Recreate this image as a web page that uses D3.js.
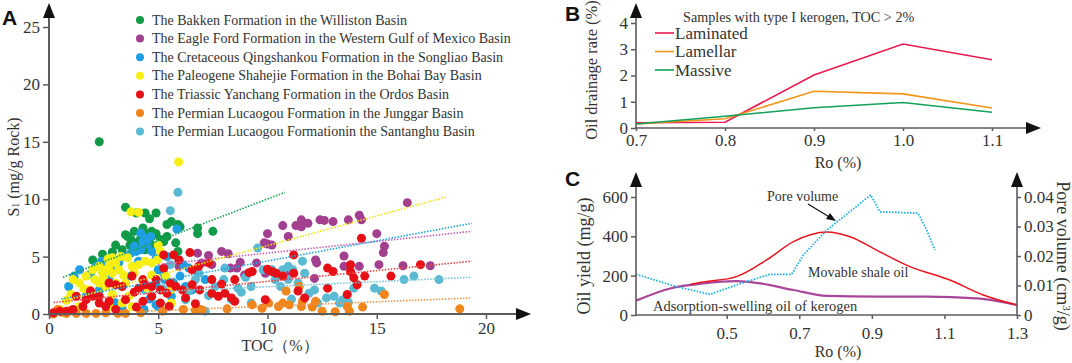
<!DOCTYPE html>
<html>
<head>
<meta charset="utf-8">
<script src="https://cdn.jsdelivr.net/npm/d3@7"></script>
<style>
  body { margin: 0; background: #fff; }
  svg text { font-family: "Liberation Serif", "Times New Roman", serif; fill: #333; }
  .panel-letter { font-family: "Liberation Sans", Arial, sans-serif !important; font-weight: bold; fill: #111 !important; }
</style>
</head>
<body>
<div id="chart"></div>
<script>
// ---------- Panel A : TOC vs S1 scatter ----------
const seriesNames = [
  "The Bakken Formation in the Williston Basin",
  "The Eagle Ford Formation in the Western Gulf of Mexico Basin",
  "The Cretaceous Qingshankou Formation in the Songliao Basin",
  "The Paleogene Shahejie Formation in the Bohai Bay Basin",
  "The Triassic Yanchang Formation in the Ordos Basin",
  "The Permian Lucaogou Formation in the Junggar Basin",
  "The Permian Lucaogou Formationin the Santanghu Basin"
];
const seriesColors = ["#119a48", "#a23f8e", "#1f9fe3", "#f7ee13", "#e60f16", "#f08519", "#5bbad3"];
const trendColors = ["#17a34f", "#c662b4", "#1aa7e0", "#f2e20a", "#f04545", "#f59445", "#74c8da"];

const bakken = [[2.3,15.0],[3.5,9.3],[4.0,8.8],[4.4,8.8],[4.9,8.8],[4.6,8.3],[3.6,6.75],[3.75,6.5],[4.1,6.3],[3.8,6.2],[4.3,7.5],[4.7,7.2],[4.9,7.0],[4.7,6.75],[5.4,7.8],[5.6,8.05],[5.9,7.8],[6.0,7.6],[6.8,7.5],[6.8,7.0],[7.5,7.2],[5.4,6.75],[5.25,6.3],[5.8,6.2],[5.9,5.45],[2.9,5.4],[2.45,5.2],[2.0,4.7],[3.35,5.6],[4.7,6.0],[4.4,5.6],[3.05,6.0],[3.9,7.2],[3.5,6.9],[4.2,6.6],[5.1,6.5],[3.7,6.0],[4.5,7.0]];
const eagleFord = [[16.4,9.7],[10.7,7.7],[10.0,7.0],[10.0,6.1],[10.2,6.0],[10.95,6.75],[11.55,8.2],[11.55,7.6],[11.85,7.9],[12.4,8.2],[12.6,8.15],[13.0,8.05],[13.7,8.2],[14.2,8.6],[14.3,8.2],[15.0,7.0],[15.35,5.9],[15.3,5.35],[9.85,6.2],[7.9,5.45],[8.2,5.25],[7.3,5.1],[7.0,4.45],[7.45,4.3],[8.3,4.0],[8.6,4.0],[8.75,4.5],[9.5,4.45],[8.95,3.4],[9.9,3.55],[10.35,3.5],[10.95,3.4],[12.2,4.7],[12.25,4.45],[12.15,3.1],[13.5,5.05],[13.5,4.15],[14.2,4.15],[15.1,4.3],[16.2,4.2],[17.45,4.2],[6.8,5.3],[5.95,4.15],[11.3,7.7]];
const qingshankou = [[5.85,7.4],[4.2,7.05],[4.4,6.6],[4.65,6.75],[4.0,5.45],[3.75,5.3],[4.2,5.6],[4.7,5.45],[4.9,4.85],[2.9,4.85],[2.4,4.6],[2.15,4.15],[1.4,3.85],[1.15,3.3],[5.0,3.85],[5.25,3.55],[5.95,4.7],[6.15,4.3],[6.4,4.0],[6.85,3.55],[7.15,3.0],[6.25,2.4],[4.9,2.7],[4.4,2.1],[4.9,0.8],[5.0,0.65],[4.35,0.4],[3.35,0.4],[1.7,1.55],[2.3,2.1],[5.6,1.55],[6.55,2.1],[6.85,0.4],[2.75,3.0],[3.75,3.3],[3.2,4.5],[3.5,5.0],[4.5,6.1],[4.1,4.6],[5.3,3.0],[5.7,2.7],[1.9,3.5],[2.6,4.0],[0.9,2.4],[4.6,1.3],[3.0,1.0],[5.4,5.0],[6.0,3.3],[3.9,5.9],[4.3,6.3],[3.0,4.2]];
const shahejie = [[5.93,13.25],[3.75,8.9],[4.1,8.85],[5.0,6.0],[5.1,5.45],[1.1,3.0],[1.0,1.7],[1.4,2.7],[1.7,3.3],[2.0,3.85],[2.3,4.15],[2.45,3.55],[2.6,3.85],[2.75,4.15],[2.9,3.55],[3.05,4.45],[3.2,3.85],[2.3,2.7],[2.6,2.4],[3.05,2.7],[3.5,2.7],[3.8,4.15],[4.1,4.3],[4.4,4.6],[4.7,4.45],[4.95,4.7],[3.65,1.55],[3.35,0.95],[3.8,0.65],[2.75,0.65],[1.4,0.65],[0.5,0.4],[5.35,3.3],[5.55,2.1],[5.6,0.95],[4.7,3.4],[1.85,2.1],[4.55,2.1],[2.7,4.8],[3.3,5.0],[2.5,3.2],[3.4,3.4],[2.1,3.0],[1.6,2.2],[3.9,3.6],[4.3,2.9],[2.9,1.7],[0.8,1.2],[2.9,4.9],[3.6,4.9]];
const yanchang = [[7.3,4.45],[6.45,5.35],[5.95,4.7],[5.25,5.15],[5.7,5.15],[5.25,4.0],[6.85,4.15],[6.55,3.85],[3.8,3.3],[4.3,3.0],[4.9,3.0],[2.75,2.7],[3.05,2.55],[3.35,2.4],[4.1,2.25],[4.4,2.55],[4.7,2.4],[5.1,2.1],[5.55,2.7],[5.8,2.4],[6.1,2.1],[6.55,2.55],[6.9,2.1],[7.45,1.8],[7.75,1.55],[8.05,1.8],[8.35,1.4],[8.5,1.1],[7.45,3.0],[8.5,3.0],[9.3,3.7],[10.2,3.7],[10.4,3.55],[10.7,3.3],[11.2,5.15],[11.2,3.55],[11.4,2.0],[11.7,1.4],[9.9,1.25],[12.75,4.0],[13.0,3.7],[12.75,2.25],[13.8,4.3],[13.8,3.7],[13.95,3.15],[14.1,2.55],[13.65,1.7],[14.3,6.6],[14.45,3.3],[15.65,3.3],[17.0,4.3],[9.15,3.6],[1.25,1.55],[1.7,1.25],[2.0,1.55],[2.3,0.95],[2.6,0.65],[1.55,0.65],[1.1,0.4],[0.5,0.25],[0.2,0.1],[0.8,0.25],[3.05,0.4],[3.5,1.25],[4.3,1.1],[4.7,1.55],[5.1,0.95],[5.5,0.65],[6.25,1.4],[2.3,1.55],[2.75,1.1],[3.9,1.9],[5.4,1.8],[4.0,0.6],[1.9,2.0],[6.7,0.9],[10.0,3.9],[7.9,2.6]];
const junggar = [[0.2,0.0],[0.4,0.4],[0.8,0.05],[1.25,0.05],[1.7,0.05],[2.15,0.05],[3.15,0.05],[3.5,0.05],[5.2,0.25],[6.15,0.4],[6.7,0.3],[6.9,0.4],[8.15,0.45],[9.3,0.8],[9.75,0.5],[10.05,0.95],[10.5,0.65],[10.7,0.95],[10.85,2.0],[11.55,0.65],[11.6,1.1],[11.45,2.4],[12.2,1.1],[12.5,0.25],[13.65,0.65],[13.75,0.25],[15.35,1.7],[18.8,0.45],[0.6,0.15],[1.0,0.3],[2.6,0.1],[7.0,0.35],[11.0,0.8],[12.05,0.6],[13.1,0.2],[14.35,0.6],[4.2,0.1]];
const santanghu = [[5.9,10.6],[5.55,9.0],[5.55,4.3],[6.7,3.0],[7.15,0.25],[8.0,3.0],[8.05,4.0],[8.65,2.25],[9.25,2.4],[9.55,5.75],[9.8,3.85],[10.2,3.85],[10.35,3.0],[10.7,3.85],[10.95,3.0],[11.4,2.7],[11.6,4.6],[11.7,3.55],[12.15,2.1],[12.3,0.95],[12.7,1.4],[13.05,1.55],[13.3,0.95],[13.45,1.25],[13.95,2.25],[14.9,2.25],[15.2,2.0],[16.25,3.0],[16.7,3.3],[17.85,3.0],[11.15,3.85],[10.95,4.15],[6.85,3.55],[6.25,1.25],[6.4,2.0],[7.6,2.4],[8.35,1.25],[9.25,0.95],[10.6,2.4],[11.9,1.8],[13.7,1.0],[9.0,3.2],[7.3,1.6],[5.2,2.2],[8.8,1.9],[11.1,1.3]];
const scatterSeries = [bakken, eagleFord, qingshankou, shahejie, yanchang, junggar, santanghu];
const drawOrder = [0, 1, 2, 3, 6, 5, 4];

// dotted trend lines, [start, end] in data units
const trendLines = [
  [[0.64, 3.2], [10.8, 10.6]],
  [[5.0, 4.3], [19.35, 7.2]],
  [[0.56, 1.3], [19.35, 7.9]],
  [[1.0, 1.3], [18.2, 10.2]],
  [[0.2, 1.0], [19.35, 4.6]],
  [[4.4, 0.25], [19.35, 1.4]],
  [[4.0, 1.85], [19.35, 3.2]]
];
const aTicksX = [0, 5, 10, 15, 20];
const aTicksY = [0, 5, 10, 15, 20, 25];

// ---------- Panel B : oil drainage rate ----------
const roB = [0.7, 0.8, 0.9, 1.0, 1.1];
const laminated = [0.2, 0.22, 2.02, 3.2, 2.6];
const lamellar = [0.15, 0.35, 1.4, 1.3, 0.76];
const massive = [0.15, 0.45, 0.77, 0.97, 0.6];
const bNames = ["Laminated", "Lamellar", "Massive"];
const bColors = ["#ea1a4e", "#f49419", "#12a05a"];
const bTicksY = [0, 1, 2, 3, 4];

// ---------- Panel C : oil yield / pore volume ----------
const movableRo = [0.40, 0.43, 0.527, 0.61, 0.684, 0.776, 0.84, 0.913, 1.005, 1.115, 1.207, 1.30];
const movableOil = [155, 166, 195, 280, 373, 422, 398, 330, 246, 178, 102, 51];
const adsorbRo = [0.25, 0.344, 0.435, 0.527, 0.592, 0.684, 0.776, 0.913, 1.051, 1.189, 1.30];
const adsorbOil = [73, 135, 161, 172, 161, 127, 97, 93, 93, 85, 51];
const poreRo = [0.25, 0.362, 0.454, 0.527, 0.619, 0.679, 0.711, 0.776, 0.897, 0.922, 1.028, 1.051, 1.074];
const poreVol = [0.0138, 0.0096, 0.0070, 0.0102, 0.0138, 0.0138, 0.0203, 0.0288, 0.0407, 0.035, 0.0345, 0.0288, 0.022];
const cTicksX = [0.5, 0.7, 0.9, 1.1, 1.3];
const cTicksYL = [0, 200, 400, 600];
const cTicksYR = [0, 0.01, 0.02, 0.03, 0.04];

const W = 1072, H = 363;
const svg = d3.select("#chart").append("svg").attr("width", W).attr("height", H);
const axisColor = "#5c5c5c";
const tickFont = "17px";

function arrowUp(x, y) {
  svg.append("path").attr("d", `M${x},${y} L${x - 6},${y + 15} L${x + 6},${y + 15} Z`).attr("fill", "#111");
}
function arrowRight(x, y) {
  svg.append("path").attr("d", `M${x},${y} L${x - 15},${y - 6} L${x - 15},${y + 6} Z`).attr("fill", "#111");
}
function styleAxis(g) {
  g.select(".domain").remove();
  g.selectAll(".tick line").attr("stroke", axisColor).attr("stroke-width", 1.5);
  g.selectAll(".tick text").style("font-size", tickFont).attr("fill", "#333");
}

// ===== Panel A =====
const xA = d3.scaleLinear().domain([0, 20]).range([49, 486]);
const yA = d3.scaleLinear().domain([0, 25]).range([314, 27]);
const gA = svg.append("g");

drawOrder.forEach(si => {
  gA.append("g").selectAll("circle")
    .data(scatterSeries[si])
    .join("circle")
    .attr("cx", d => xA(d[0]))
    .attr("cy", d => yA(d[1]))
    .attr("r", 4.5)
    .attr("fill", seriesColors[si]);
});

const lineA = d3.line().x(d => xA(d[0])).y(d => yA(d[1]));
trendLines.forEach((t, i) => {
  gA.append("path").attr("d", lineA(t)).attr("fill", "none")
    .attr("stroke", trendColors[i]).attr("stroke-width", 1.6)
    .attr("stroke-dasharray", "1.5,1.5");
});

gA.append("g").attr("transform", "translate(0,314)")
  .call(d3.axisBottom(xA).tickValues(aTicksX).tickSize(5).tickPadding(3))
  .call(styleAxis);
gA.append("g").attr("transform", "translate(49,0)")
  .call(d3.axisLeft(yA).tickValues(aTicksY).tickSize(6).tickPadding(3))
  .call(styleAxis);
svg.append("line").attr("x1", 49).attr("x2", 49).attr("y1", 315).attr("y2", 12)
  .attr("stroke", axisColor).attr("stroke-width", 2);
svg.append("line").attr("x1", 48).attr("x2", 520).attr("y1", 314).attr("y2", 314)
  .attr("stroke", axisColor).attr("stroke-width", 2);
arrowUp(49, 3);
arrowRight(531, 314);

// legend
const legA = svg.append("g");
seriesNames.forEach((name, i) => {
  const y = 20 + i * 18.6;
  legA.append("circle").attr("cx", 140).attr("cy", y).attr("r", 4).attr("fill", seriesColors[i]);
  legA.append("text").attr("x", 152).attr("y", y + 4.5).style("font-size", "14px").text(name);
});

svg.append("text").attr("x", 280).attr("y", 351).attr("text-anchor", "middle")
  .style("font-size", "16px").text("TOC（%）");
svg.append("text").attr("transform", "translate(19,167) rotate(-90)").attr("text-anchor", "middle")
  .style("font-size", "16px")
  .html('S<tspan font-size="10px">1</tspan> (mg/g Rock)');
svg.append("text").attr("class", "panel-letter").attr("x", 2).attr("y", 25).style("font-size", "21px").text("A");

// ===== Panel B =====
const xB = d3.scaleLinear().domain([0.7, 1.1]).range([636, 992]);
const yB = d3.scaleLinear().domain([0, 4]).range([128, 23]);
const gB = svg.append("g");
const lineB = d3.line().x((d, i) => xB(roB[i])).y(d => yB(d));
[laminated, lamellar, massive].forEach((s, i) => {
  gB.append("path").attr("d", lineB(s)).attr("fill", "none")
    .attr("stroke", bColors[i]).attr("stroke-width", 1.6);
});
gB.append("g").attr("transform", "translate(0,128)")
  .call(d3.axisBottom(xB).tickValues(roB).tickFormat(d3.format(".1f")).tickSize(3).tickPadding(3))
  .call(styleAxis);
gB.append("g").attr("transform", "translate(636,0)")
  .call(d3.axisLeft(yB).tickValues(bTicksY).tickFormat(d3.format("d")).tickSize(5).tickPadding(3))
  .call(styleAxis);
svg.append("line").attr("x1", 636).attr("x2", 636).attr("y1", 129).attr("y2", 12)
  .attr("stroke", axisColor).attr("stroke-width", 1.6);
svg.append("line").attr("x1", 635).attr("x2", 1030).attr("y1", 128).attr("y2", 128)
  .attr("stroke", axisColor).attr("stroke-width", 1.6);
arrowUp(636, 3);
arrowRight(1041, 128);

svg.append("text").attr("x", 683).attr("y", 22).style("font-size", "14.2px")
  .text("Samples with type I  kerogen, TOC > 2%");
bNames.forEach((name, i) => {
  const y = 33 + i * 18.5;
  svg.append("line").attr("x1", 655).attr("x2", 674).attr("y1", y).attr("y2", y)
    .attr("stroke", bColors[i]).attr("stroke-width", 1.6);
  svg.append("text").attr("x", 675).attr("y", y + 5.5).style("font-size", "17px").text(name);
});
svg.append("text").attr("x", 838).attr("y", 168).attr("text-anchor", "middle")
  .style("font-size", "16px").text("Ro (%)");
svg.append("text").attr("transform", "translate(597,70) rotate(-90)").attr("text-anchor", "middle")
  .style("font-size", "16.5px").text("Oil drainage rate (%)");
svg.append("text").attr("class", "panel-letter").attr("x", 565).attr("y", 21).style("font-size", "21px").text("B");

// ===== Panel C =====
const xC = d3.scaleLinear().domain([0.25, 1.3]).range([636, 1017]);
const yCL = d3.scaleLinear().domain([0, 600]).range([315, 197]);
const yCR = d3.scaleLinear().domain([0, 0.04]).range([315, 197]);
const gC = svg.append("g");

gC.append("path")
  .attr("d", d3.line().x((d, i) => xC(adsorbRo[i])).y(d => yCL(d)).curve(d3.curveMonotoneX)(adsorbOil))
  .attr("fill", "none").attr("stroke", "#a8479a").attr("stroke-width", 2.2);
gC.append("path")
  .attr("d", d3.line().x((d, i) => xC(movableRo[i])).y(d => yCL(d)).curve(d3.curveMonotoneX)(movableOil))
  .attr("fill", "none").attr("stroke", "#e8141e").attr("stroke-width", 1.5);
gC.append("path")
  .attr("d", d3.line().x((d, i) => xC(poreRo[i])).y(d => yCR(d))(poreVol))
  .attr("fill", "none").attr("stroke", "#22b4e6").attr("stroke-width", 1.8)
  .attr("stroke-dasharray", "1.6,1.4");

gC.append("g").attr("transform", "translate(0,315)")
  .call(d3.axisBottom(xC).tickValues(cTicksX).tickFormat(d3.format(".1f")).tickSize(4).tickPadding(8))
  .call(styleAxis);
gC.append("g").attr("transform", "translate(636,0)")
  .call(d3.axisLeft(yCL).tickValues(cTicksYL).tickSize(5).tickPadding(3))
  .call(styleAxis);
gC.append("g").attr("transform", "translate(1017,0)")
  .call(d3.axisRight(yCR).tickValues(cTicksYR).tickFormat(d => d === 0 ? "0" : d3.format(".2f")(d)).tickSize(4).tickPadding(3))
  .call(styleAxis);
svg.append("line").attr("x1", 636).attr("x2", 1017).attr("y1", 315).attr("y2", 315)
  .attr("stroke", axisColor).attr("stroke-width", 1.6);
svg.append("line").attr("x1", 636).attr("x2", 636).attr("y1", 316).attr("y2", 182)
  .attr("stroke", axisColor).attr("stroke-width", 1.6);
svg.append("line").attr("x1", 1017).attr("x2", 1017).attr("y1", 316).attr("y2", 182)
  .attr("stroke", axisColor).attr("stroke-width", 1.6);
arrowUp(636, 172);
arrowUp(1017, 172);

svg.append("text").attr("x", 767).attr("y", 201).style("font-size", "14px").text("Pore volume");
svg.append("line").attr("x1", 808).attr("y1", 204).attr("x2", 831).attr("y2", 218)
  .attr("stroke", "#111").attr("stroke-width", 1.2);
svg.append("path").attr("d", "M836,221 L826,219 L830,213 Z").attr("fill", "#111");
svg.append("text").attr("x", 808).attr("y", 277).style("font-size", "14px").text("Movable shale oil");
svg.append("text").attr("x", 653).attr("y", 311).style("font-size", "14.5px").text("Adsorption-swelling oil of kerogen");

svg.append("text").attr("x", 838).attr("y", 357).attr("text-anchor", "middle")
  .style("font-size", "16px").text("Ro (%)");
svg.append("text").attr("transform", "translate(590,256) rotate(-90)").attr("text-anchor", "middle")
  .style("font-size", "18px").text("Oil  yield (mg/g)");
svg.append("text").attr("transform", "translate(1057,256) rotate(90)").attr("text-anchor", "middle")
  .style("font-size", "18px")
  .html('Pore volume (cm<tspan dy="-6" font-size="11px">3</tspan><tspan dy="6">/g)</tspan>');
svg.append("text").attr("class", "panel-letter").attr("x", 565).attr("y", 186).style("font-size", "21px").text("C");
</script>
</body>
</html>
